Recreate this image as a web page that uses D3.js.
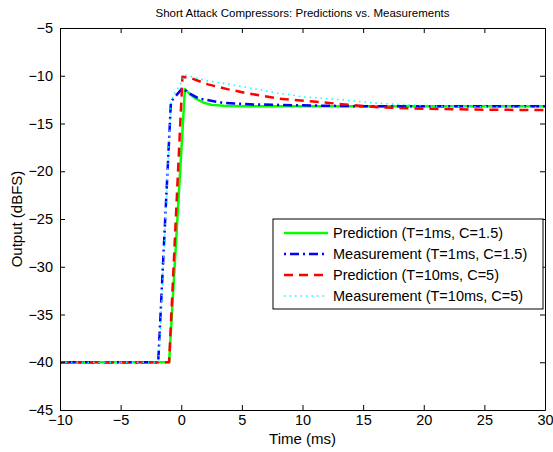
<!DOCTYPE html>
<html>
<head>
<meta charset="utf-8">
<script src="https://cdn.jsdelivr.net/npm/d3@7"></script>
<style>
  body { margin: 0; background: #fff; }
  svg { font-family: "Liberation Sans", Arial, sans-serif; }
</style>
</head>
<body>
<div class="chart"></div>
<script>
// series (time in ms, output in dBFS)
var predFastT = [-10, -1.0, 0.3, 0.7, 1.2, 1.8, 2.5, 3.5, 5, 30];
var predFastV = [-40, -40, -11.4, -11.9, -12.4, -12.8, -13.05, -13.15, -13.2, -13.2];

var measFastT = [-10, -1.9, -0.85, 0.1, 0.6, 1.5, 3.5, 6, 10, 15, 30];
var measFastV = [-40, -40, -12.7, -11.3, -11.8, -12.4, -12.85, -13.0, -13.1, -13.2, -13.2];

var predSlowT = [-10, -1.0, 0.1, 0.9, 2.2, 3.8, 5.3, 6.7, 8.1, 10.9, 13.5, 16.4, 20, 25, 30];
var predSlowV = [-40, -40, -10.1, -10.3, -10.9, -11.4, -11.8, -12.1, -12.4, -12.7, -13.0, -13.3, -13.45, -13.55, -13.6];

var measSlowT = [-10, -1.85, -0.85, -0.5, -0.1, 0.3, 2, 4, 7.9, 10, 13.1, 16.4, 21.3, 25, 30];
var measSlowV = [-40, -40, -12.7, -11.7, -11.0, -9.9, -10.5, -10.9, -11.8, -12.2, -12.5, -12.9, -13.2, -13.25, -13.3];

var seriesNames = ['Prediction (T=1ms, C=1.5)', 'Measurement (T=1ms, C=1.5)',
                   'Prediction (T=10ms, C=5)', 'Measurement (T=10ms, C=5)'];
var xTicks = [-10, -5, 0, 5, 10, 15, 20, 25, 30];
var yTicks = [-5, -10, -15, -20, -25, -30, -35, -40, -45];

var styles = [
  { color: '#00ff00', width: 2.5, dash: null },
  { color: '#0000ff', width: 2.5, dash: '2,4,9,4' },
  { color: '#ff0000', width: 2.5, dash: '9,6' },
  { color: '#00ffff', width: 1.5, dash: '1.5,4' }
];

var W = 553, H = 452;
var mLeft = 60, mRight = 545, mTop = 28, mBottom = 410;

var svg = d3.select('.chart').append('svg')
    .attr('width', W)
    .attr('height', H);

var x = d3.scaleLinear().domain([-10, 30]).range([mLeft, mRight]);
var y = d3.scaleLinear().domain([-45, -5]).range([mBottom, mTop]);

var fmt = function(d) { return d < 0 ? '\u2212' + Math.abs(d) : '' + d; };

// clip for the curves
svg.append('clipPath').attr('id', 'clip')
  .append('rect')
    .attr('x', mLeft).attr('y', mTop)
    .attr('width', mRight - mLeft).attr('height', mBottom - mTop);

var series = [
  d3.zip(predFastT, predFastV),
  d3.zip(measFastT, measFastV),
  d3.zip(predSlowT, predSlowV),
  d3.zip(measSlowT, measSlowV)
];

var line = d3.line()
    .x(function(d) { return x(d[0]); })
    .y(function(d) { return y(d[1]); });

series.forEach(function(s, i) {
  svg.append('path')
      .attr('clip-path', 'url(#clip)')
      .attr('d', line(s))
      .attr('fill', 'none')
      .attr('stroke', styles[i].color)
      .attr('stroke-width', styles[i].width)
      .attr('stroke-dasharray', styles[i].dash)
      .attr('stroke-linejoin', 'round');
});

// axes: ticks inside, on all four sides
var ax = function(gen, tx, ty) {
  var g = svg.append('g').attr('transform', 'translate(' + tx + ',' + ty + ')').call(gen);
  g.select('.domain').attr('stroke', '#000');
  g.selectAll('.tick line').attr('stroke', '#000');
  g.selectAll('text').attr('font-size', 14.5).attr('fill', '#000')
      .attr('font-family', '"Liberation Sans", Arial, sans-serif');
  return g;
};

ax(d3.axisBottom(x).tickValues(xTicks).tickSizeInner(-5).tickSizeOuter(0)
      .tickPadding(5).tickFormat(fmt), 0, mBottom);
ax(d3.axisTop(x).tickValues(xTicks).tickSizeInner(-5).tickSizeOuter(0)
      .tickFormat(''), 0, mTop);
ax(d3.axisLeft(y).tickValues(yTicks).tickSizeInner(-5).tickSizeOuter(0)
      .tickPadding(7).tickFormat(fmt), mLeft, 0);
ax(d3.axisRight(y).tickValues(yTicks).tickSizeInner(-5).tickSizeOuter(0)
      .tickFormat(''), mRight, 0);

// title and labels
svg.append('text')
    .attr('x', (mLeft + mRight) / 2)
    .attr('y', 17)
    .attr('text-anchor', 'middle')
    .attr('font-size', 11.5)
    .text('Short Attack Compressors: Predictions vs. Measurements');

svg.append('text')
    .attr('x', (mLeft + mRight) / 2)
    .attr('y', 444)
    .attr('text-anchor', 'middle')
    .attr('font-size', 15)
    .text('Time (ms)');

svg.append('text')
    .attr('transform', 'translate(22,' + (mTop + mBottom) / 2 + ') rotate(-90)')
    .attr('text-anchor', 'middle')
    .attr('font-size', 15)
    .text('Output (dBFS)');

// legend
var lg = svg.append('g').attr('transform', 'translate(273,219)');
lg.append('rect')
    .attr('width', 270)
    .attr('height', 90)
    .attr('fill', '#fff')
    .attr('stroke', '#000');

seriesNames.forEach(function(name, i) {
  var ly = 14 + i * 21;
  lg.append('line')
      .attr('x1', 11).attr('x2', 55)
      .attr('y1', ly).attr('y2', ly)
      .attr('stroke', styles[i].color)
      .attr('stroke-width', styles[i].width)
      .attr('stroke-dasharray', styles[i].dash);
  lg.append('text')
      .attr('x', 60)
      .attr('y', ly + 5)
      .attr('font-size', 14.5)
      .text(name);
});
</script>
</body>
</html>
